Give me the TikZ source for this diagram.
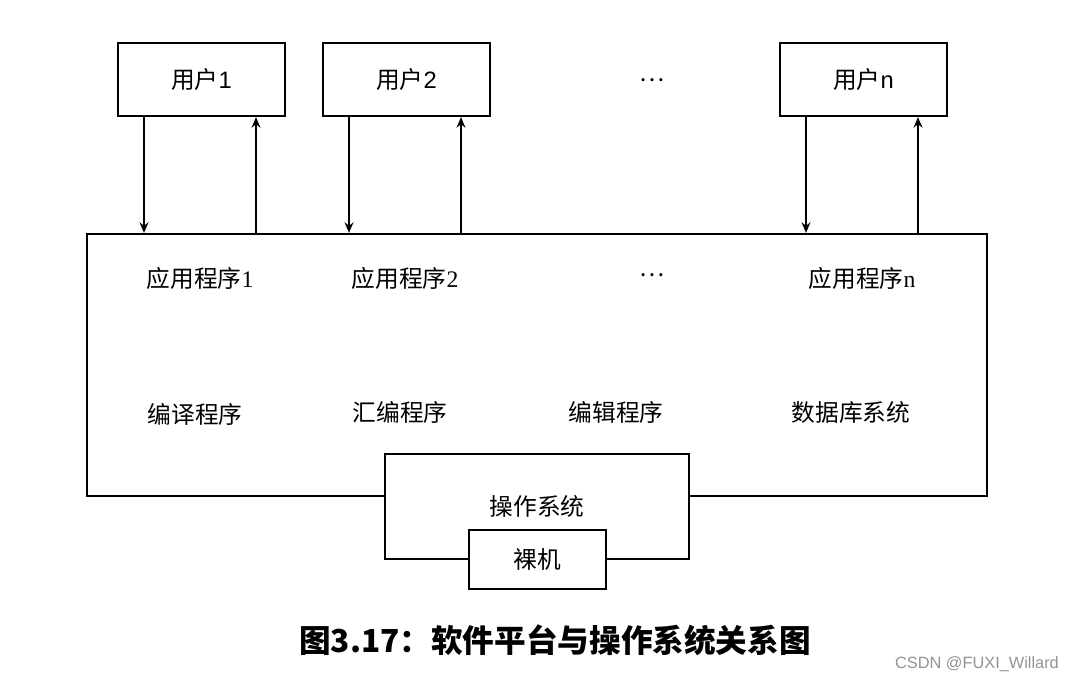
\documentclass[tikz,border=0pt]{standalone}
\usepackage{fontspec}
\setmainfont{Liberation Serif}
\setsansfont{Liberation Sans}
\newfontfamily\cjk{Noto Sans CJK SC}
\usetikzlibrary{arrows.meta,calc}
\tikzset{>={Stealth[length=6pt,width=5pt]},every node/.style={font=\fontsize{13.5}{15}\selectfont},box/.style={draw,line width=1.25pt,fill=white},flow/.style={line width=1.25pt,->}}

\begin{document}
\begin{tikzpicture}[x=0.02cm,y=-0.02cm]
\useasboundingbox (0,0) rectangle (1073,683);
\node[box,minimum width=18cm,minimum height=5.24cm] (plat) at (537,365) {};
\node[box,minimum width=6.08cm,minimum height=2.1cm] (os) at (537,506.5) {\cjk 操作系统};
\node[box,minimum width=2.74cm,minimum height=1.18cm] (hw) at (537.5,559.5) {\cjk 裸机};
% users and their links to the platform
\foreach \n/\x/\t in {u1/201.5/1,u2/406.5/2,un/863.5/n}{
\node[box,minimum width=3.34cm,minimum height=1.46cm] (\n) at (\x,79.5) {{\cjk 用户}\sffamily\t};
\path ($(\n.south)+(-57.5,0)$) coordinate (d) ($(\n.south)+(54.5,0)$) coordinate (u);
\draw[flow] (d) -- (d |- plat.north);\draw[flow] (u |- plat.north) -- (u);}
\node (ud) at (652,80) {\cjk …};
\node (a1) at (200,278) {{\cjk 应用程序}1};\node (a2) at (405,278) {{\cjk 应用程序}2};
\node (ad) at (652,275) {\cjk …};\node (an) at (862,278) {{\cjk 应用程序}n};
\node (t1) at (195,414) {\cjk 编译程序};\node (t2) at (400,412) {\cjk 汇编程序};
\node (t3) at (616,412) {\cjk 编辑程序};\node (t4) at (851,412) {\cjk 数据库系统};
\node[font=\cjk\bfseries\fontsize{18}{20}\selectfont] (cap) at (555,640) {图3.17：软件平台与操作系统关系图};
\node[text=gray!85,font=\sffamily\fontsize{9.3}{11}\selectfont] (wm) at (977,664) {CSDN @FUXI\_Willard};
\end{tikzpicture}
\end{document}
